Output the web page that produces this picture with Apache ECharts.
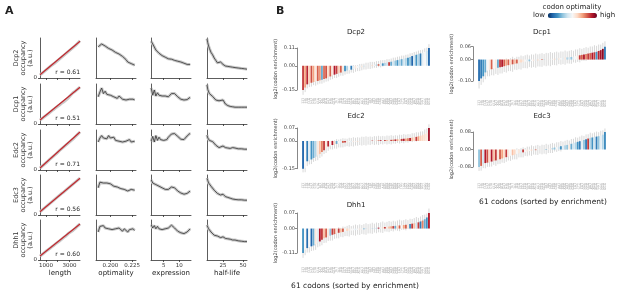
<!DOCTYPE html>
<html>
<head>
<meta charset="utf-8">
<script src="https://cdn.jsdelivr.net/npm/echarts@6/dist/echarts.min.js"></script>
<style>
html,body{margin:0;padding:0;background:#fff}
#main{width:617px;height:293px}
</style>
</head>
<body>
<div id="main"></div>
<script>
// ---------- panel A data ----------
var proteins = ['Dcp2', 'Dcp1', 'Edc2', 'Edc3', 'Dhh1'];
var rValues = ['0.61', '0.51', '0.71', '0.56', '0.60'];
var featureNames = ['length', 'optimality', 'expression', 'half-life'];

var lengthX = [500,700,900,1100,1300,1500,1700,1900,2100,2300,2500,2700,2900,3100,3300,3500,3700,3900];
var optX = [0.186,0.188,0.190,0.192,0.194,0.196,0.198,0.200,0.202,0.204,0.206,0.208,0.210,0.212,0.214,0.216,0.218,0.220,0.222,0.224,0.226,0.228];
var exprX = [1,1.5,2,2.5,3,3.5,4,4.5,5,5.5,6,6.5,7,7.5,8,8.5,9,9.5,10,10.5,11,11.5,12,12.5,13,13.5];
var halfX = [5,6,7,8,10,12,14,16,18,20,22,25,28,31,34,37,40,44,48,52,55];

var occLength = [
  [0.08,0.12,0.17,0.22,0.27,0.32,0.36,0.41,0.46,0.51,0.56,0.61,0.66,0.71,0.76,0.81,0.87,0.93],
  [0.10,0.14,0.19,0.23,0.28,0.33,0.37,0.42,0.46,0.51,0.55,0.60,0.65,0.72,0.78,0.82,0.87,0.92],
  [0.05,0.10,0.15,0.20,0.26,0.31,0.36,0.41,0.47,0.52,0.57,0.62,0.67,0.72,0.77,0.83,0.89,0.95],
  [0.08,0.13,0.18,0.23,0.28,0.33,0.38,0.43,0.48,0.53,0.57,0.62,0.67,0.72,0.77,0.82,0.87,0.92],
  [0.10,0.14,0.19,0.24,0.28,0.33,0.37,0.42,0.46,0.51,0.56,0.60,0.66,0.70,0.74,0.79,0.85,0.90]
];
var fitLengthX = [500, 3900];
var fitLength = [[0.08,0.92],[0.10,0.92],[0.05,0.95],[0.08,0.92],[0.10,0.90]];

var occOptimality = [
  [0.78,0.82,0.85,0.83,0.80,0.78,0.74,0.72,0.70,0.66,0.64,0.62,0.60,0.56,0.54,0.50,0.46,0.40,0.38,0.36,0.37,0.32],
  [0.68,0.80,0.90,0.76,0.82,0.74,0.78,0.72,0.74,0.68,0.72,0.64,0.70,0.66,0.62,0.66,0.60,0.64,0.62,0.58,0.62,0.60],
  [0.70,0.80,0.86,0.80,0.84,0.78,0.86,0.80,0.76,0.82,0.74,0.78,0.72,0.76,0.70,0.74,0.72,0.70,0.76,0.70,0.74,0.72],
  [0.68,0.82,0.86,0.80,0.78,0.80,0.76,0.78,0.74,0.72,0.74,0.70,0.72,0.66,0.68,0.64,0.62,0.60,0.62,0.64,0.66,0.62],
  [0.70,0.84,0.82,0.86,0.80,0.84,0.78,0.82,0.76,0.80,0.78,0.74,0.80,0.76,0.72,0.78,0.74,0.70,0.76,0.74,0.78,0.74]
];
var occExpression = [
  [0.92,0.85,0.80,0.70,0.66,0.62,0.58,0.56,0.54,0.52,0.50,0.48,0.46,0.47,0.45,0.44,0.43,0.42,0.40,0.40,0.38,0.37,0.35,0.34,0.34,0.34],
  [0.90,0.72,0.85,0.70,0.78,0.72,0.74,0.70,0.68,0.70,0.67,0.68,0.72,0.76,0.78,0.76,0.72,0.68,0.64,0.62,0.61,0.60,0.59,0.61,0.64,0.67],
  [0.72,0.84,0.70,0.86,0.74,0.82,0.76,0.80,0.74,0.78,0.76,0.82,0.86,0.90,0.92,0.91,0.88,0.84,0.80,0.77,0.75,0.76,0.80,0.85,0.90,0.92],
  [0.88,0.80,0.82,0.76,0.74,0.72,0.70,0.68,0.66,0.64,0.62,0.64,0.68,0.70,0.71,0.68,0.64,0.60,0.57,0.55,0.54,0.52,0.52,0.54,0.57,0.60],
  [0.88,0.80,0.86,0.78,0.84,0.78,0.82,0.76,0.80,0.78,0.78,0.80,0.84,0.87,0.84,0.80,0.76,0.72,0.70,0.68,0.67,0.66,0.67,0.70,0.74,0.78]
];
var occHalfLife = [
  [0.98,0.88,0.80,0.74,0.64,0.58,0.50,0.44,0.38,0.36,0.40,0.34,0.30,0.29,0.28,0.27,0.26,0.25,0.24,0.23,0.22],
  [0.98,0.86,0.84,0.76,0.74,0.69,0.64,0.60,0.56,0.58,0.54,0.60,0.50,0.46,0.44,0.43,0.42,0.42,0.42,0.42,0.42],
  [0.87,0.80,0.82,0.74,0.76,0.71,0.66,0.62,0.58,0.56,0.54,0.60,0.56,0.55,0.54,0.56,0.55,0.53,0.53,0.52,0.52],
  [0.92,0.86,0.80,0.76,0.72,0.67,0.62,0.58,0.54,0.52,0.50,0.52,0.46,0.44,0.42,0.40,0.39,0.38,0.38,0.37,0.37],
  [0.87,0.82,0.78,0.74,0.70,0.67,0.62,0.58,0.60,0.62,0.56,0.58,0.54,0.53,0.52,0.50,0.50,0.48,0.47,0.46,0.46]
];
var xTickValues = [[1000,2000,3000],[0.2,0.225],[5,10],[25,50]];
var xLabelValues = [[1000,3000],[0.2,0.225],[5,10],[25,50]];

// ---------- panel B data ----------
var codons = ['TTT','TTC','TTA','TTG','CTT','CTC','CTA','CTG','ATT','ATC','ATA','ATG','GTT','GTC','GTA','GTG',
  'TCT','TCC','TCA','TCG','CCT','CCC','CCA','CCG','ACT','ACC','ACA','ACG','GCT','GCC','GCA','GCG',
  'TAT','TAC','CAT','CAC','CAA','CAG','AAT','AAC','AAA','AAG','GAT','GAC','GAA','GAG',
  'TGT','TGC','TGG','CGT','CGC','CGA','CGG','AGT','AGC','AGA','AGG','GGT','GGC','GGA','GGG'];

var enrichDcp2 = [-0.150,-0.135,-0.115,-0.110,-0.105,-0.100,-0.097,-0.094,-0.090,-0.086,
  -0.082,-0.078,-0.072,-0.066,-0.060,-0.055,-0.050,-0.046,-0.042,-0.038,
  -0.034,-0.030,-0.027,-0.024,-0.020,-0.017,-0.014,-0.011,-0.008,-0.005,
  -0.002,0.000,0.002,0.004,0.006,0.008,0.010,0.012,0.015,0.018,
  0.020,0.022,0.025,0.028,0.032,0.035,0.038,0.041,0.044,0.047,
  0.050,0.055,0.060,0.064,0.068,0.072,0.076,0.080,0.086,0.092,0.110];
var optDcp2 = [0.85,0.70,0.88,0.62,0.82,0.70,0.55,0.80,0.72,0.25,
  0.78,0.82,0.60,0.80,0.55,0.90,0.85,0.62,0.80,0.55,
  0.20,0.35,0.50,0.15,0.45,0.55,0.50,0.45,0.55,0.40,
  0.50,0.30,0.45,0.60,0.50,0.35,0.80,0.45,0.20,0.35,
  0.40,0.85,0.25,0.40,0.30,0.20,0.35,0.25,0.40,0.35,
  0.20,0.30,0.10,0.40,0.20,0.35,0.15,0.45,0.50,0.40,0.10];
var errDcp2 = [0.030,0.028,0.025,0.022,0.024,0.020,0.026,0.022,0.021,0.025,
  0.022,0.020,0.024,0.021,0.023,0.020,0.026,0.022,0.019,0.024,
  0.021,0.020,0.022,0.018,0.024,0.020,0.019,0.022,0.020,0.018,
  0.021,0.019,0.022,0.020,0.018,0.021,0.019,0.022,0.020,0.018,
  0.021,0.019,0.020,0.022,0.019,0.021,0.020,0.022,0.019,0.021,
  0.020,0.022,0.019,0.021,0.020,0.022,0.021,0.019,0.022,0.020,0.024];

var enrichDcp1 = [-0.100,-0.088,-0.078,-0.060,-0.052,-0.048,-0.045,-0.042,-0.040,-0.038,
  -0.036,-0.034,-0.031,-0.028,-0.026,-0.024,-0.022,-0.020,-0.018,-0.016,
  -0.014,-0.012,-0.010,-0.009,-0.008,-0.007,-0.006,-0.005,-0.004,-0.003,
  -0.002,-0.001,0.000,0.001,0.002,0.003,0.004,0.005,0.006,0.007,
  0.008,0.009,0.010,0.011,0.012,0.014,0.016,0.018,0.020,0.022,
  0.024,0.026,0.028,0.030,0.032,0.034,0.036,0.040,0.044,0.050,0.060];
var optDcp1 = [0.12,0.15,0.20,0.25,0.50,0.55,0.80,0.50,0.55,0.25,
  0.85,0.90,0.80,0.70,0.80,0.60,0.82,0.65,0.80,0.55,
  0.60,0.55,0.50,0.45,0.30,0.50,0.55,0.45,0.60,0.50,
  0.80,0.30,0.50,0.55,0.45,0.50,0.60,0.40,0.55,0.50,
  0.45,0.55,0.35,0.40,0.30,0.45,0.50,0.55,0.85,0.80,
  0.90,0.75,0.85,0.80,0.90,0.85,0.20,0.88,0.92,0.95,0.15];
var errDcp1 = [0.035,0.030,0.028,0.032,0.026,0.030,0.028,0.032,0.027,0.034,
  0.029,0.031,0.027,0.033,0.028,0.030,0.035,0.027,0.031,0.029,
  0.033,0.028,0.030,0.032,0.027,0.031,0.029,0.033,0.028,0.030,
  0.032,0.027,0.031,0.029,0.033,0.028,0.030,0.032,0.027,0.031,
  0.029,0.033,0.028,0.030,0.032,0.027,0.031,0.029,0.033,0.028,
  0.030,0.032,0.027,0.031,0.029,0.033,0.028,0.030,0.026,0.028,0.025];

var enrichEdc2 = [-0.150,-0.145,-0.110,-0.105,-0.100,-0.092,-0.085,-0.078,-0.070,-0.060,
  -0.050,-0.040,-0.030,-0.025,-0.022,-0.019,-0.016,-0.014,-0.012,-0.010,
  -0.009,-0.008,-0.007,-0.006,-0.005,-0.004,-0.003,-0.002,-0.001,0.000,
  0.000,0.001,0.001,0.002,0.002,0.003,0.003,0.004,0.004,0.005,
  0.005,0.006,0.006,0.007,0.008,0.009,0.010,0.011,0.012,0.013,
  0.014,0.016,0.018,0.020,0.022,0.025,0.028,0.032,0.038,0.045,0.070];
var optEdc2 = [0.10,0.50,0.15,0.45,0.20,0.25,0.35,0.55,0.65,0.75,
  0.85,0.55,0.88,0.50,0.90,0.60,0.25,0.50,0.45,0.80,
  0.85,0.55,0.50,0.45,0.55,0.50,0.60,0.50,0.45,0.55,
  0.50,0.50,0.55,0.85,0.50,0.60,0.80,0.90,0.50,0.85,
  0.65,0.55,0.85,0.75,0.90,0.70,0.60,0.85,0.90,0.70,
  0.75,0.88,0.65,0.60,0.85,0.70,0.62,0.60,0.58,0.55,0.92];
var errEdc2 = [0.020,0.024,0.026,0.022,0.025,0.021,0.023,0.026,0.022,0.024,
  0.021,0.025,0.023,0.020,0.024,0.022,0.026,0.021,0.023,0.025,
  0.022,0.020,0.024,0.022,0.025,0.021,0.023,0.020,0.024,0.022,
  0.025,0.021,0.023,0.020,0.024,0.022,0.025,0.021,0.023,0.020,
  0.024,0.022,0.025,0.021,0.023,0.020,0.024,0.022,0.025,0.021,
  0.023,0.020,0.024,0.022,0.025,0.021,0.023,0.020,0.024,0.022,0.020];

var enrichEdc3 = [-0.080,-0.075,-0.065,-0.062,-0.060,-0.058,-0.055,-0.052,-0.050,-0.047,
  -0.044,-0.041,-0.038,-0.035,-0.032,-0.029,-0.026,-0.023,-0.020,-0.017,
  -0.015,-0.013,-0.011,-0.009,-0.007,-0.005,-0.004,-0.003,-0.002,-0.001,
  0.000,0.001,0.002,0.003,0.005,0.007,0.009,0.011,0.013,0.015,
  0.017,0.019,0.021,0.023,0.026,0.029,0.032,0.035,0.038,0.041,
  0.044,0.047,0.050,0.053,0.055,0.057,0.059,0.061,0.064,0.068,0.080];
var optEdc3 = [0.30,0.80,0.40,0.90,0.82,0.60,0.90,0.65,0.85,0.55,
  0.80,0.70,0.60,0.85,0.55,0.50,0.65,0.60,0.50,0.55,
  0.45,0.85,0.50,0.55,0.50,0.60,0.45,0.80,0.50,0.55,
  0.50,0.45,0.25,0.50,0.55,0.35,0.30,0.50,0.40,0.20,
  0.45,0.35,0.30,0.55,0.25,0.40,0.35,0.20,0.15,0.45,
  0.30,0.15,0.85,0.35,0.20,0.40,0.15,0.30,0.45,0.35,0.18];
var errEdc3 = [0.018,0.022,0.020,0.024,0.019,0.021,0.023,0.018,0.025,0.020,
  0.022,0.019,0.024,0.021,0.018,0.023,0.020,0.022,0.025,0.019,
  0.021,0.023,0.018,0.022,0.020,0.024,0.019,0.021,0.023,0.018,
  0.022,0.020,0.024,0.019,0.021,0.023,0.018,0.022,0.020,0.024,
  0.019,0.021,0.023,0.018,0.022,0.020,0.024,0.019,0.021,0.023,
  0.018,0.022,0.020,0.024,0.019,0.021,0.023,0.018,0.022,0.020,0.016];

var enrichDhh1 = [-0.110,-0.095,-0.088,-0.084,-0.080,-0.076,-0.070,-0.064,-0.058,-0.050,
  -0.044,-0.040,-0.036,-0.032,-0.028,-0.025,-0.022,-0.019,-0.017,-0.015,
  -0.013,-0.011,-0.010,-0.009,-0.008,-0.007,-0.006,-0.005,-0.004,-0.003,
  -0.002,-0.001,0.000,0.001,0.002,0.003,0.004,0.005,0.006,0.007,
  0.008,0.009,0.010,0.011,0.012,0.013,0.014,0.015,0.016,0.017,
  0.018,0.020,0.022,0.024,0.026,0.028,0.032,0.036,0.042,0.050,0.070];
var optDhh1 = [0.20,0.50,0.12,0.50,0.10,0.25,0.55,0.45,0.90,0.85,
  0.65,0.80,0.55,0.30,0.85,0.80,0.55,0.85,0.65,0.80,
  0.50,0.60,0.55,0.50,0.50,0.45,0.50,0.55,0.50,0.25,
  0.40,0.55,0.50,0.30,0.40,0.35,0.90,0.50,0.60,0.85,
  0.55,0.65,0.70,0.85,0.25,0.60,0.80,0.50,0.70,0.80,
  0.55,0.20,0.85,0.65,0.40,0.85,0.15,0.75,0.25,0.20,0.90];
var errDhh1 = [0.022,0.025,0.020,0.024,0.021,0.023,0.026,0.020,0.022,0.025,
  0.021,0.024,0.020,0.023,0.026,0.021,0.022,0.025,0.020,0.024,
  0.021,0.023,0.026,0.020,0.022,0.025,0.021,0.024,0.020,0.023,
  0.026,0.021,0.022,0.025,0.020,0.024,0.021,0.023,0.026,0.020,
  0.022,0.025,0.021,0.024,0.020,0.023,0.026,0.021,0.022,0.025,
  0.020,0.024,0.021,0.023,0.026,0.020,0.022,0.025,0.021,0.018,0.020];

// y tick values = min / 0 / max of each bar chart
var enrichTicks = [[-0.15,0,0.11],[-0.10,0,0.06],[-0.15,0,0.07],[-0.08,0,0.08],[-0.11,0,0.07]];

var rdbu = ['#053061','#2166ac','#4393c3','#92c5de','#d1e5f0','#f7f7f7','#fddbc7','#f4a582','#d6604d','#b2182b','#67001f'];
var FONT = 'DejaVu Sans';

var chart = echarts.init(document.getElementById('main'));

var grids = [], xAxes = [], yAxes = [], series = [], graphics = [];
var axisCol = '#333';

// ---------- panel A layout ----------
var colLeft = [40, 96, 151, 207];
var rowTop = [38, 84, 130, 175, 220];
var xMin = [500, 0.1835, 0.94, 5];
var xMax = [3900, 0.2295, 13.75, 55];
var xs = [lengthX, optX, exprX, halfX];
var ys = [occLength, occOptimality, occExpression, occHalfLife];

function zip(a, b) {
  return a.map(function (v, i) { return [v, b[i]]; });
}

function label(x, y, text, font, align, extra) {
  var el = {
    type: 'text', x: x, y: y, z: 100,
    style: {text: text, font: font + ' ' + FONT, fill: '#222',
      align: align, verticalAlign: 'middle', textAlign: align, textVerticalAlign: 'middle'}
  };
  if (extra) {
    for (var k in extra) el[k] = extra[k];
  }
  return el;
}

for (var r = 0; r < 5; r++) {
  for (var c = 0; c < 4; c++) {
    var gi = grids.length;
    grids.push({left: colLeft[c], top: rowTop[r], width: 40, height: 40});
    xAxes.push({
      type: 'value', gridIndex: gi, min: xMin[c], max: xMax[c],
      axisLine: {show: true, lineStyle: {color: axisCol, width: 0.8}},
      axisTick: {show: true, length: 2, customValues: xTickValues[c], lineStyle: {color: axisCol, width: 0.8}},
      axisLabel: {
        show: r === 4, customValues: xLabelValues[c], fontSize: 5.5, color: '#333', margin: 3, fontFamily: FONT,
        formatter: c === 1 ? function (v) { return v.toFixed(3); } : function (v) { return String(v); }
      },
      splitLine: {show: false},
      name: r === 4 ? featureNames[c] : '', nameLocation: 'middle', nameGap: 10,
      nameTextStyle: {fontSize: 7, color: '#222', fontFamily: FONT}
    });
    yAxes.push({
      type: 'value', gridIndex: gi, min: 0, max: 1,
      axisLine: {show: true, lineStyle: {color: axisCol, width: 0.8}},
      axisTick: {show: c === 0, length: 2, customValues: [0], lineStyle: {color: axisCol, width: 0.8}},
      axisLabel: {show: c === 0, customValues: [0], fontSize: 5.5, color: '#333', margin: 3, fontFamily: FONT},
      splitLine: {show: false}
    });
    var pts = zip(xs[c], ys[c][r]);
    // confidence band
    series.push({
      type: 'line', xAxisIndex: gi, yAxisIndex: gi, data: pts, showSymbol: false, silent: true,
      lineStyle: {color: '#c9c9c9', width: 3}, z: 1
    });
    if (c === 0) {
      series.push({
        type: 'line', xAxisIndex: gi, yAxisIndex: gi, data: zip(fitLengthX, fitLength[r]),
        showSymbol: false, silent: true, lineStyle: {color: '#c1272d', width: 1.2}, z: 3
      });
    } else {
      series.push({
        type: 'line', xAxisIndex: gi, yAxisIndex: gi, data: pts, showSymbol: false, silent: true,
        lineStyle: {color: '#333', width: 0.8}, z: 3
      });
    }
  }
  var yl = label(23, rowTop[r] + 20, proteins[r] + '\noccupancy\n(a.u.)', '6.5px', 'center', {rotation: Math.PI / 2});
  yl.style.lineHeight = 7;
  yl.style.fill = '#333';
  graphics.push(yl);
  graphics.push(label(80, rowTop[r] + 34, 'r = ' + rValues[r], '6px', 'right'));
}

// ---------- panel B layout ----------
var barCharts = [
  {name: 'Dcp2', v: enrichDcp2, o: optDcp2, e: errDcp2, left: 302, top: 48, h: 42, m: 8, tx: 356, ty: 32},
  {name: 'Dcp1', v: enrichDcp1, o: optDcp1, e: errDcp1, left: 478, top: 46.7, h: 34.3, m: 19, tx: 542, ty: 32},
  {name: 'Edc2', v: enrichEdc2, o: optEdc2, e: errEdc2, left: 302, top: 128, h: 40.7, m: 14, tx: 356, ty: 116},
  {name: 'Edc3', v: enrichEdc3, o: optEdc3, e: errEdc3, left: 478, top: 132, h: 35, m: 16, tx: 542, ty: 116},
  {name: 'Dhh1', v: enrichDhh1, o: optDhh1, e: errDhh1, left: 302, top: 213, h: 40, m: 14, tx: 356, ty: 205}
];
var barSeriesIdx = [];

barCharts.forEach(function (b, k) {
  var gi = grids.length;
  var t = enrichTicks[k];
  grids.push({left: b.left, top: b.top, width: 128, height: b.h});
  xAxes.push({
    type: 'category', gridIndex: gi, data: codons,
    axisLine: {show: false}, axisTick: {show: false},
    axisLabel: {interval: 0, rotate: 90, fontSize: 3, color: '#9a9a9a', margin: b.m, fontFamily: FONT},
    splitLine: {show: false}
  });
  yAxes.push({
    type: 'value', gridIndex: gi, min: t[0], max: t[2], offset: 5,
    axisLine: {show: true, lineStyle: {color: '#555', width: 0.7}},
    axisTick: {show: true, length: 2, customValues: t, lineStyle: {color: '#555', width: 0.7}},
    axisLabel: {customValues: t, fontSize: 5, color: '#444', margin: 2, fontFamily: FONT,
      formatter: function (v) { return v.toFixed(2); }},
    splitLine: {show: false},
    name: 'log2(codon enrichment)', nameLocation: 'middle', nameGap: 15,
    nameTextStyle: {fontSize: 5, color: '#444', fontFamily: FONT}
  });
  series.push({
    type: 'custom', xAxisIndex: gi, yAxisIndex: gi, silent: true, z: 1, clip: false,
    data: b.v.map(function (v, i) { return [i, v, b.e[i]]; }),
    encode: {x: 0, y: 1},
    renderItem: function (params, api) {
      var i = api.value(0), v = api.value(1), e = api.value(2);
      var p1 = api.coord([i, v - e]);
      var p2 = api.coord([i, v + e]);
      return {type: 'line', shape: {x1: p1[0], y1: p1[1], x2: p2[0], y2: p2[1]},
        style: {stroke: '#cfcfcf', lineWidth: 0.8}};
    }
  });
  barSeriesIdx.push(series.length);
  series.push({
    type: 'bar', xAxisIndex: gi, yAxisIndex: gi, silent: true, z: 2, barCategoryGap: '12%',
    data: b.v.map(function (v, i) { return [i, v, b.o[i]]; }),
    encode: {x: 0, y: 1}
  });
  graphics.push(label(b.tx, b.ty, b.name, '7px', 'center'));
});

graphics.push(label(543, 202, '61 codons (sorted by enrichment)', '7.5px', 'center'));
graphics.push(label(355, 286, '61 codons (sorted by enrichment)', '7.5px', 'center'));
graphics.push(label(572, 7, 'codon optimality', '7px', 'center'));
graphics.push(label(5, 11, 'A', 'bold 11px', 'left'));
graphics.push(label(276, 11, 'B', 'bold 11px', 'left'));

var option = {
  animation: false,
  textStyle: {fontFamily: FONT},
  grid: grids,
  xAxis: xAxes,
  yAxis: yAxes,
  series: series,
  graphic: graphics,
  visualMap: {
    type: 'continuous', min: 0, max: 1, dimension: 2, seriesIndex: barSeriesIdx,
    inRange: {color: rdbu}, orient: 'horizontal', left: 518, top: -3, z: 1,
    itemWidth: 5, itemHeight: 49, text: ['high', 'low'], textGap: 3,
    textStyle: {fontSize: 7, color: '#222', fontFamily: FONT},
    calculable: false, hoverLink: false
  }
};
chart.setOption(option);
</script>
</body>
</html>
